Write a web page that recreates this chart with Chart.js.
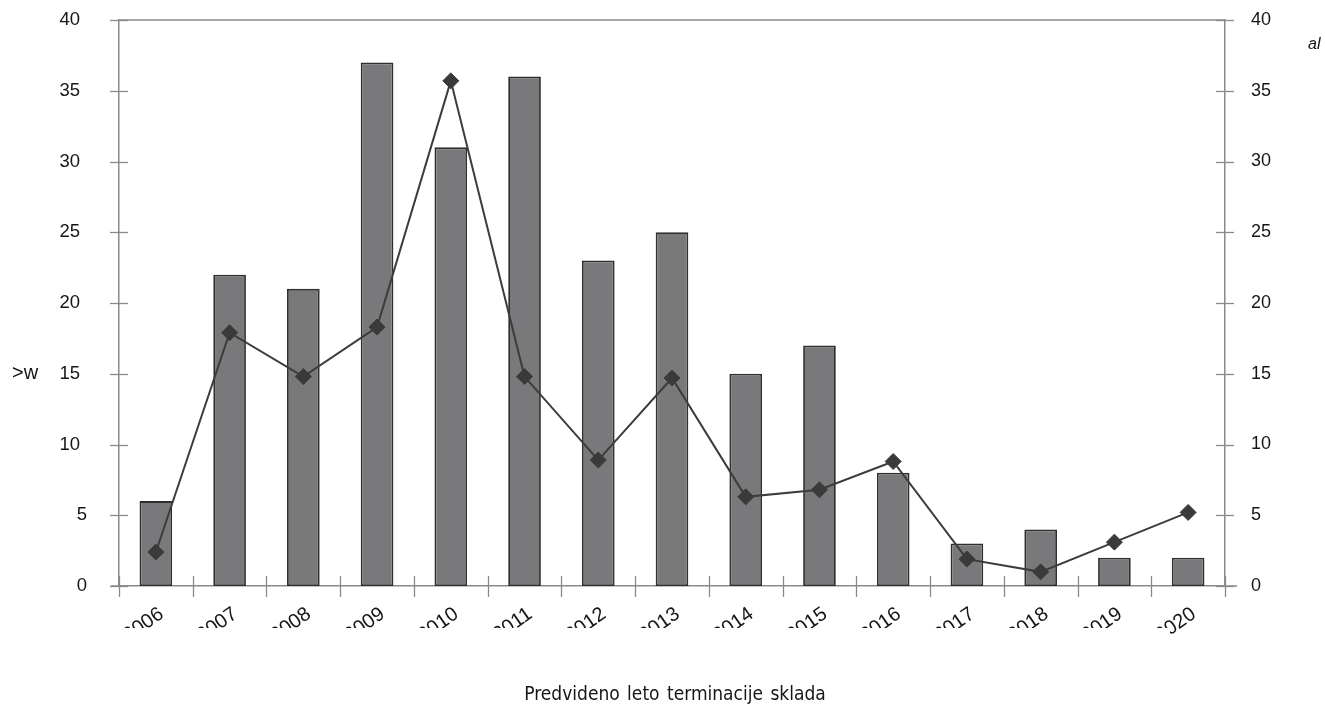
<!DOCTYPE html>
<html>
<head>
<meta charset="utf-8">
<script src="https://cdn.jsdelivr.net/npm/chart.js@4/dist/chart.umd.min.js"></script>
<style>
  html, body { margin: 0; padding: 0; background: #ffffff; overflow: hidden; }
  #wrap { width: 1325px; height: 704px; }
</style>
</head>
<body>
<div id="wrap"><canvas id="chart" width="1325" height="704"></canvas></div>
<script>
// Years of expected fund termination
const years = ['2006', '2007', '2008', '2009', '2010', '2011', '2012', '2013', '2014', '2015', '2016', '2017', '2018', '2019', '2020'];
// Bar series (left axis)
const barValues = [6, 22, 21, 37, 31, 36, 23, 25, 15, 17, 8, 3, 4, 2, 2];
// Line series (right axis)
const lineValues = [2.4, 17.9, 14.8, 18.3, 35.7, 14.8, 8.9, 14.7, 6.3, 6.8, 8.8, 1.9, 1.0, 3.1, 5.2];
// Shared axis range
const axisMin = 0;
const axisMax = 40;
const axisStep = 5;
// Texts
const xTitle = 'Predvideno leto terminacije sklada';
const leftLabel = '>w';
const rightLabel = 'al';

const AXIS_COLOR = '#8a8a8a';
const TEXT_COLOR = '#161616';
const SANS = '"Liberation Sans", Arial, sans-serif';

// Tick marks that cross the axes, the top frame line, axis numbers and free texts
const axisDecor = {
  id: 'axisDecor',
  afterDraw(chart) {
    const { ctx, chartArea: a, scales } = chart;
    const xs = scales.x, yl = scales.y, yr = scales.y2;
    const seg = (x1, y1, x2, y2) => { ctx.beginPath(); ctx.moveTo(x1, y1); ctx.lineTo(x2, y2); ctx.stroke(); };
    ctx.save();
    ctx.strokeStyle = AXIS_COLOR;
    ctx.lineWidth = 1.3;
    seg(a.left, a.top, a.right, a.top);
    ctx.lineWidth = 1.5;
    seg(a.left - 8, a.bottom, a.left, a.bottom);
    seg(a.right, a.bottom, a.right + 12, a.bottom);
    ctx.lineWidth = 1.3;
    yl.ticks.forEach(t => { const py = Math.round(yl.getPixelForValue(t.value)) + 0.5; seg(a.left - 9, py, a.left + 9, py); });
    yr.ticks.forEach(t => { const py = Math.round(yr.getPixelForValue(t.value)) + 0.5; seg(a.right - 9, py, a.right + 9, py); });
    for (let i = 0; i <= years.length; i++) {
      const px = Math.round(xs.getPixelForValue(i - 0.5)) + 0.5;
      seg(px, a.bottom - 10, px, a.bottom + 11);
    }
    ctx.restore();

    // Axis numbers on both sides
    ctx.save();
    ctx.fillStyle = TEXT_COLOR;
    ctx.textBaseline = 'middle';
    ctx.font = '18.5px ' + SANS;
    ctx.textAlign = 'right';
    yl.ticks.forEach(t => {
      ctx.fillText(String(t.value), t.value >= 10 ? 80 : 87, yl.getPixelForValue(t.value));
    });
    ctx.font = '18px ' + SANS;
    ctx.textAlign = 'left';
    yr.ticks.forEach(t => {
      ctx.fillText(String(t.value), a.right + 26, yr.getPixelForValue(t.value));
    });
    ctx.restore();

    // Year labels, slanted and cut off along the lower edge
    ctx.save();
    ctx.beginPath();
    ctx.rect(0, 0, 1170, 628);
    ctx.rect(1170, 0, 155, 646);
    ctx.clip();
    ctx.fillStyle = TEXT_COLOR;
    ctx.font = '20px ' + SANS;
    ctx.textAlign = 'right';
    ctx.textBaseline = 'top';
    years.forEach((label, i) => {
      const px = xs.getPixelForValue(i);
      ctx.save();
      ctx.translate(px, a.bottom + 18);
      ctx.rotate(-35 * Math.PI / 180);
      ctx.fillText(label, 0, 0);
      ctx.restore();
    });
    ctx.restore();

    ctx.save();
    ctx.fillStyle = TEXT_COLOR;
    ctx.textBaseline = 'middle';
    ctx.font = '20px ' + SANS;
    ctx.textAlign = 'left';
    ctx.fillText(leftLabel, 12, yl.getPixelForValue(15));
    ctx.font = 'italic 16px ' + SANS;
    ctx.fillText(rightLabel, 1308, 45);
    ctx.font = '19px "Liberation Sans Narrow", "DejaVu Sans Condensed", Arial, sans-serif';
    ctx.textAlign = 'center';
    ctx.textBaseline = 'alphabetic';
    ctx.wordSpacing = '2px';
    ctx.fillText(xTitle, 675, 700);
    ctx.restore();
  }
};

new Chart(document.getElementById('chart'), {
  data: {
    labels: years,
    datasets: [
      {
        type: 'line',
        data: lineValues,
        yAxisID: 'y2',
        order: 0,
        borderColor: '#3c3c3c',
        borderWidth: 2,
        tension: 0,
        pointStyle: 'rectRot',
        pointRadius: 8,
        pointBackgroundColor: '#3a3a3a',
        pointBorderColor: '#3a3a3a',
        pointBorderWidth: 1
      },
      {
        type: 'bar',
        data: barValues,
        yAxisID: 'y',
        order: 1,
        backgroundColor: '#79797b',
        borderColor: '#2f2f2f',
        borderWidth: 1.8,
        borderSkipped: false,
        categoryPercentage: 1,
        barPercentage: 0.443
      }
    ]
  },
  options: {
    responsive: false,
    devicePixelRatio: 1,
    animation: false,
    layout: { padding: { top: 20, right: 0, bottom: 0, left: 0 } },
    plugins: { legend: { display: false }, tooltip: { enabled: false }, title: { display: false } },
    scales: {
      x: {
        type: 'category',
        offset: true,
        grid: { display: false, drawTicks: false, offset: true },
        border: { display: true, color: AXIS_COLOR, width: 1.5 },
        ticks: { display: false },
        afterFit: s => { s.height = 118; }
      },
      y: {
        type: 'linear',
        position: 'left',
        min: axisMin,
        max: axisMax,
        grid: { display: false, drawTicks: false },
        border: { display: true, color: AXIS_COLOR, width: 1.5 },
        ticks: { display: false, stepSize: axisStep },
        afterFit: s => { s.width = 119; }
      },
      y2: {
        type: 'linear',
        position: 'right',
        min: axisMin,
        max: axisMax,
        grid: { display: false, drawTicks: false },
        border: { display: true, color: AXIS_COLOR, width: 1.5 },
        ticks: { display: false, stepSize: axisStep },
        afterFit: s => { s.width = 100; }
      }
    }
  },
  plugins: [axisDecor]
});
</script>
</body>
</html>
